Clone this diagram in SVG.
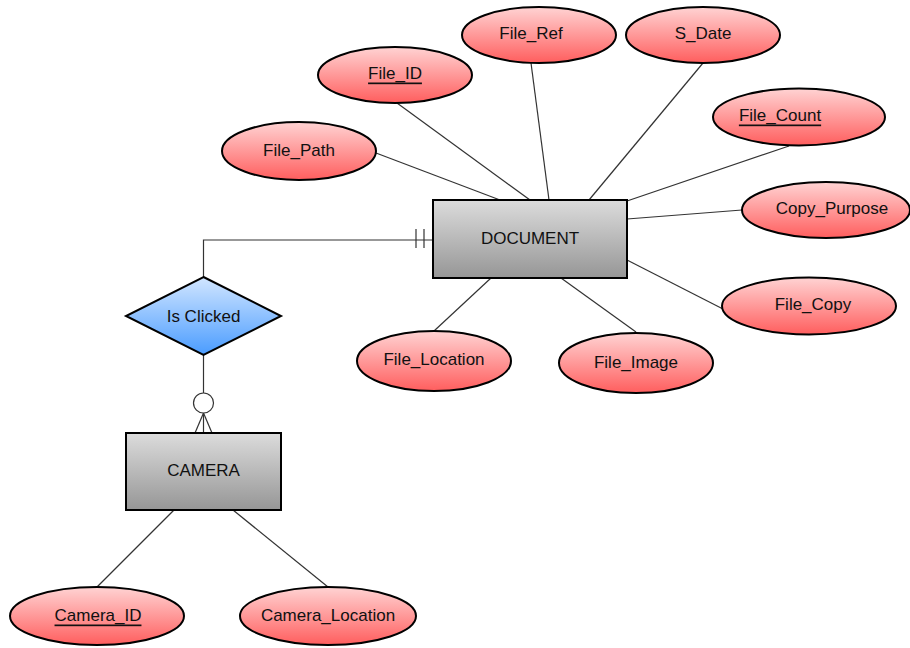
<svg xmlns="http://www.w3.org/2000/svg" width="910" height="648" viewBox="0 0 910 648">
  <defs>
    <linearGradient id="gAttr" x1="0" y1="0" x2="0" y2="1">
      <stop offset="0" stop-color="#ffd3d3"/>
      <stop offset="1" stop-color="#ff5e5e"/>
    </linearGradient>
    <linearGradient id="gEntity" x1="0" y1="0" x2="0" y2="1">
      <stop offset="0" stop-color="#dcdcdc"/>
      <stop offset="1" stop-color="#969696"/>
    </linearGradient>
    <linearGradient id="gRel" x1="0" y1="0" x2="0" y2="1">
      <stop offset="0" stop-color="#d2e6ff"/>
      <stop offset="1" stop-color="#4a9cff"/>
    </linearGradient>
  </defs>
  <style>
    .attr { fill: url(#gAttr); stroke: #000; stroke-width: 2; }
    .entity { fill: url(#gEntity); stroke: #000; stroke-width: 2; }
    .rel { fill: url(#gRel); stroke: #000; stroke-width: 2; }
    .link { stroke: #333; stroke-width: 1.2; fill: none; }
    text { font-family: "Liberation Sans", Arial, sans-serif; font-size: 17px; fill: #111; text-anchor: middle; dominant-baseline: central; }
    .key { text-decoration: underline; }
  </style>

  <!-- connectors -->
  <g id="connectors">
    <line class="link" x1="376" y1="153" x2="500" y2="200"/>
    <line class="link" x1="397" y1="103" x2="530" y2="200"/>
    <line class="link" x1="531" y1="63" x2="549" y2="200"/>
    <line class="link" x1="703" y1="63" x2="589" y2="200"/>
    <line class="link" x1="789" y1="146" x2="627" y2="201"/>
    <line class="link" x1="742" y1="210" x2="627" y2="219"/>
    <line class="link" x1="723" y1="309" x2="627" y2="260"/>
    <line class="link" x1="434" y1="331" x2="491" y2="278"/>
    <line class="link" x1="636" y1="332" x2="561" y2="278"/>
    <line class="link" x1="97" y1="587" x2="174" y2="510"/>
    <line class="link" x1="328" y1="587" x2="233" y2="510"/>
    <!-- Is Clicked to DOCUMENT (one and only one) -->
    <polyline class="link" points="203.5,277 203.5,240 433,240"/>
    <line class="link" x1="416" y1="229" x2="416" y2="248"/>
    <line class="link" x1="424" y1="229" x2="424" y2="248"/>
    <!-- Is Clicked to CAMERA (zero or many) -->
    <line class="link" x1="203.5" y1="355" x2="203.5" y2="393"/>
    <circle cx="203.5" cy="403" r="10" fill="#fff" stroke="#333" stroke-width="1.2"/>
    <line class="link" x1="203.5" y1="413" x2="195" y2="433"/>
    <line class="link" x1="203.5" y1="413" x2="203.5" y2="433"/>
    <line class="link" x1="203.5" y1="413" x2="212" y2="433"/>
  </g>

  <!-- entities -->
  <g id="document">
    <rect class="entity" x="433" y="200" width="194" height="78"/>
    <text x="530" y="238">DOCUMENT</text>
  </g>
  <g id="camera">
    <rect class="entity" x="126" y="433" width="155" height="77"/>
    <text x="203.5" y="470">CAMERA</text>
  </g>

  <!-- relationship -->
  <g id="is-clicked">
    <polygon class="rel" points="203.5,277 281,316 203.5,355 126,316"/>
    <text x="203.5" y="316">Is Clicked</text>
  </g>

  <!-- DOCUMENT attributes -->
  <g id="file-id">
    <ellipse class="attr" cx="395" cy="75" rx="77" ry="28"/>
    <text class="key" x="395" y="73">File_ID</text>
  </g>
  <g id="file-ref">
    <ellipse class="attr" cx="539" cy="35" rx="77" ry="28"/>
    <text x="531" y="33">File_Ref</text>
  </g>
  <g id="s-date">
    <ellipse class="attr" cx="703" cy="35" rx="77" ry="28"/>
    <text x="703" y="33">S_Date</text>
  </g>
  <g id="file-path">
    <ellipse class="attr" cx="299" cy="151" rx="77" ry="29"/>
    <text x="299" y="150">File_Path</text>
  </g>
  <g id="file-count">
    <ellipse class="attr" cx="799" cy="117" rx="86" ry="28.5"/>
    <text class="key" x="780" y="115">File_Count</text>
  </g>
  <g id="copy-purpose">
    <ellipse class="attr" cx="826" cy="210" rx="84" ry="28"/>
    <text x="832" y="208">Copy_Purpose</text>
  </g>
  <g id="file-copy">
    <ellipse class="attr" cx="809" cy="306" rx="87" ry="28.5"/>
    <text x="813" y="304">File_Copy</text>
  </g>
  <g id="file-location">
    <ellipse class="attr" cx="434" cy="361" rx="77" ry="30"/>
    <text x="434" y="359">File_Location</text>
  </g>
  <g id="file-image">
    <ellipse class="attr" cx="636" cy="363" rx="77" ry="30"/>
    <text x="636" y="362">File_Image</text>
  </g>

  <!-- CAMERA attributes -->
  <g id="camera-id">
    <ellipse class="attr" cx="97" cy="616" rx="87" ry="29"/>
    <text class="key" x="98" y="615">Camera_ID</text>
  </g>
  <g id="camera-location">
    <ellipse class="attr" cx="328" cy="616" rx="88" ry="29"/>
    <text x="328" y="615">Camera_Location</text>
  </g>
</svg>
